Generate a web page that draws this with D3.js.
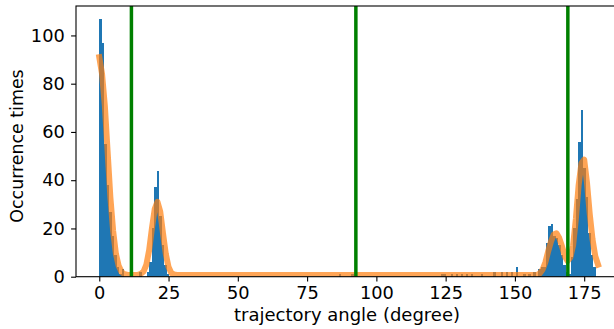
<!DOCTYPE html>
<html>
<head>
<meta charset="utf-8">
<script src="https://cdn.jsdelivr.net/npm/d3@7"></script>
<style>
  html, body { margin: 0; padding: 0; background: #fff; }
  svg { display: block; font-family: "DejaVu Sans", sans-serif; }
</style>
</head>
<body>
<svg id="chart" width="614" height="329"></svg>
<script>
// histogram: 200 bins over 0..180 degrees, only non-empty bins listed
const binWidth = 0.9
const binIndex = [0, 1, 2, 3, 4, 5, 6, 7, 8, 9, 16,
                  19, 20, 21, 22, 23, 24, 25, 26, 27,
                  96, 101, 137, 138, 141, 143, 145, 147, 149, 153,
                  158, 161, 163, 165, 167, 170, 172, 174, 176, 177,
                  178, 179, 180, 181, 182, 183, 184, 185, 186, 187, 188,
                  189, 190, 191, 192, 193, 194, 195, 196, 197, 198]
const binCount = [107, 97, 55, 38, 27, 17, 9, 4, 1, 3, 2,
                  2, 6, 20, 37, 44, 25, 13, 5, 1,
                  1, 1, 1, 1, 1, 1, 1, 1, 1, 1,
                  2, 2, 2, 2, 4, 1, 1, 2, 3, 4,
                  4, 14, 21, 22, 17, 16, 13, 9, 5, 2, 1,
                  8, 20, 32, 56, 69, 45, 33, 18, 9, 4]

// fitted curve (orange)
const fitAngle = [0, 1, 2, 3, 4, 5, 6, 7, 8, 9, 10, 12, 14, 15, 16, 17, 18, 19, 20, 21, 22, 23, 24, 25, 26, 27, 28,
                  158, 159, 160, 161, 162, 163, 164, 165, 166, 167, 168, 169, 170, 171, 172, 173, 174, 175, 176, 177, 178, 179, 180]
const fitValue = [91, 84, 71, 52, 33, 19, 9.5, 4.5, 2, 1.1, 0.8, 0.7, 0.8, 1.2, 2.2, 5, 11, 20, 28, 31, 27, 18, 9.5, 4, 1.5, 0.9, 0.7,
                  0.7, 1.4, 3, 6, 10.5, 14.5, 17.5, 18, 16, 12.5, 8.5, 6.5, 8, 13, 24, 38, 47, 48.5, 39, 26, 15.5, 8.5, 5]

// vertical markers (green)
const markerAngle = [11.6, 92.6, 169.1]

const xTicks = [0, 25, 50, 75, 100, 125, 150, 175]
const yTicks = [0, 20, 40, 60, 80, 100]

const margin = { left: 76, top: 6, right: 618, bottom: 276.7 }
const tickFont = 17.8

const svg = d3.select('#chart')

const x = d3.scaleLinear().domain([-8.4, 187.2]).range([margin.left, margin.right])
const y = d3.scaleLinear().domain([0, 112.2]).range([margin.bottom, margin.top])

svg.append('clipPath').attr('id', 'plotClip')
  .append('rect')
    .attr('x', margin.left)
    .attr('y', margin.top)
    .attr('width', margin.right - margin.left)
    .attr('height', margin.bottom - margin.top)

const plot = svg.append('g').attr('clip-path', 'url(#plotClip)')

// bars
plot.append('g')
  .selectAll('rect')
  .data(binIndex.map((b, i) => ({ start: b * binWidth, count: binCount[i] })))
  .enter()
  .append('rect')
    .attr('x', d => x(d.start))
    .attr('y', d => y(d.count))
    .attr('width', d => x(d.start + binWidth) - x(d.start))
    .attr('height', d => y(0) - y(d.count))
    .attr('fill', '#1f77b4')
    .attr('shape-rendering', 'crispEdges')

// fit curve
const line = d3.line()
  .x(d => x(d[0]))
  .y(d => y(d[1]))

plot.append('path')
  .datum(fitAngle.map((a, i) => [a, fitValue[i]]))
  .attr('d', line)
  .attr('fill', 'none')
  .attr('stroke', '#ff7f0e')
  .attr('stroke-opacity', 0.7)
  .attr('stroke-width', 6)
  .attr('stroke-linejoin', 'round')
  .attr('stroke-linecap', 'square')

// green vertical lines
plot.append('g')
  .selectAll('line')
  .data(markerAngle)
  .enter()
  .append('line')
    .attr('x1', d => x(d))
    .attr('x2', d => x(d))
    .attr('y1', margin.top)
    .attr('y2', margin.bottom)
    .attr('stroke', '#008000')
    .attr('stroke-width', 3.5)

// axes
const xAxis = svg.append('g')
  .attr('transform', `translate(0,${margin.bottom})`)
  .call(d3.axisBottom(x).tickValues(xTicks).tickSize(4.9).tickPadding(4.5))
const yAxis = svg.append('g')
  .attr('transform', `translate(${margin.left},0)`)
  .call(d3.axisLeft(y).tickValues(yTicks).tickSize(4.9).tickPadding(6.3))

;[xAxis, yAxis].forEach(g => {
  g.attr('font-size', tickFont).attr('font-family', '"DejaVu Sans", sans-serif')
  g.select('.domain').remove()
  g.selectAll('.tick line').attr('stroke', '#000').attr('stroke-width', 1.1)
  g.selectAll('.tick text').attr('fill', '#000')
})

// frame
svg.append('rect')
  .attr('x', margin.left)
  .attr('y', margin.top)
  .attr('width', margin.right - margin.left)
  .attr('height', margin.bottom - margin.top)
  .attr('fill', 'none')
  .attr('stroke', '#000')
  .attr('stroke-width', 1.1)

// labels
svg.append('text')
  .attr('x', (margin.left + margin.right) / 2)
  .attr('y', 321)
  .attr('text-anchor', 'middle')
  .attr('font-size', 18)
  .text('trajectory angle (degree)')

svg.append('text')
  .attr('transform', `translate(22.5,146) rotate(-90)`)
  .attr('text-anchor', 'middle')
  .attr('font-size', 17.4)
  .text('Occurrence times')
</script>
</body>
</html>
